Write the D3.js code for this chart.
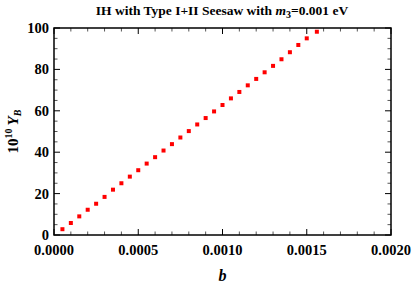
<!DOCTYPE html>
<html>
<head>
<meta charset="utf-8">
<script src="https://cdn.jsdelivr.net/npm/d3@7"></script>
<style>
  body { margin: 0; background: #fff; }
  text { font-family: "Liberation Serif", "Times New Roman", serif; font-weight: bold; }
</style>
</head>
<body>
<div id="chart"></div>
<script>
// data
const bValues = [0.00005, 0.0001, 0.00015, 0.0002, 0.00025, 0.0003, 0.00035, 0.0004,
  0.00045, 0.0005, 0.00055, 0.0006, 0.00065, 0.0007, 0.00075, 0.0008, 0.00085, 0.0009,
  0.00095, 0.001, 0.00105, 0.0011, 0.00115, 0.0012, 0.00125, 0.0013, 0.00135, 0.0014,
  0.00145, 0.0015, 0.00156];
const ybValues = [2.8, 5.8, 9.0, 12.2, 15.1, 18.4, 21.9, 25.0, 28.2, 31.3, 34.5, 37.6,
  40.8, 43.9, 47.1, 50.2, 53.4, 56.5, 59.7, 62.8, 66.0, 69.1, 72.3, 75.4, 78.6, 81.7,
  84.9, 88.3, 91.8, 95.0, 98.2];
const xTicks = [0, 0.0005, 0.001, 0.0015, 0.002];
const yTicks = [0, 20, 40, 60, 80, 100];

const width = 415, height = 289;
const margin = { top: 28, right: 24, bottom: 54, left: 54 };
const w = width - margin.left - margin.right;
const h = height - margin.top - margin.bottom;

const svgRoot = d3.select("#chart").append("svg")
  .attr("width", width)
  .attr("height", height);

const svg = svgRoot.append("g")
  .attr("transform", `translate(${margin.left},${margin.top})`);

const x = d3.scaleLinear().domain([0, 0.002]).range([0, w]);
const y = d3.scaleLinear().domain([0, 100]).range([h, 0]);

// minor + major ticks, drawn inward on all four sides
const xMinor = d3.range(0, 0.00201, 0.0001);
const yMinor = d3.range(0, 100.1, 5);

function isMajor(v, step) {
  return Math.abs(v / step - Math.round(v / step)) < 1e-6;
}

const tickG = svg.append("g");
xMinor.forEach(v => {
  const len = isMajor(v, 0.0005) ? 6 : 3.5;
  const col = isMajor(v, 0.0005) ? "#000" : "#555";
  tickG.append("line").attr("x1", x(v)).attr("x2", x(v)).attr("y1", h).attr("y2", h - len)
    .attr("stroke", col).attr("stroke-width", 1);
  tickG.append("line").attr("x1", x(v)).attr("x2", x(v)).attr("y1", 0).attr("y2", len)
    .attr("stroke", col).attr("stroke-width", 1);
});
yMinor.forEach(v => {
  const len = isMajor(v, 20) ? 6 : 3.5;
  const col = isMajor(v, 20) ? "#000" : "#555";
  tickG.append("line").attr("y1", y(v)).attr("y2", y(v)).attr("x1", 0).attr("x2", len)
    .attr("stroke", col).attr("stroke-width", 1);
  tickG.append("line").attr("y1", y(v)).attr("y2", y(v)).attr("x1", w).attr("x2", w - len)
    .attr("stroke", col).attr("stroke-width", 1);
});

// frame
svg.append("rect")
  .attr("x", 0).attr("y", 0).attr("width", w).attr("height", h)
  .attr("fill", "none").attr("stroke", "#000").attr("stroke-width", 1.5);

// tick labels
svg.selectAll(".xlab").data(xTicks).join("text")
  .attr("class", "xlab")
  .attr("x", d => x(d))
  .attr("y", h + 20)
  .attr("text-anchor", "middle")
  .attr("font-size", 14.5)
  .text(d => d3.format(".4f")(d));

svg.selectAll(".ylab").data(yTicks).join("text")
  .attr("class", "ylab")
  .attr("x", -5)
  .attr("y", d => y(d) + 5)
  .attr("text-anchor", "end")
  .attr("font-size", 14.5)
  .text(d => d);

// points
svg.selectAll(".pt").data(bValues).join("rect")
  .attr("class", "pt")
  .attr("x", (d, i) => x(d) - 2)
  .attr("y", (d, i) => y(ybValues[i]) - 2)
  .attr("width", 4)
  .attr("height", 4)
  .attr("fill", "#ff0000");

// title
const title = svgRoot.append("text")
  .attr("x", 222)
  .attr("y", 15)
  .attr("text-anchor", "middle")
  .attr("font-size", 13.5);
title.append("tspan").text("IH with Type I+II Seesaw with ");
title.append("tspan").attr("font-style", "italic").text("m");
title.append("tspan").attr("font-size", 10).attr("dy", 3).text("3");
title.append("tspan").attr("dy", -3).text("=0.001 eV");

// axis labels
svgRoot.append("text")
  .attr("x", margin.left + w / 2)
  .attr("y", 281)
  .attr("text-anchor", "middle")
  .attr("font-size", 16)
  .attr("font-style", "italic")
  .text("b");

const ylab = svgRoot.append("text")
  .attr("transform", `translate(18,${margin.top + h / 2}) rotate(-90)`)
  .attr("text-anchor", "middle")
  .attr("font-size", 15);
ylab.append("tspan").text("10");
ylab.append("tspan").attr("font-size", 10).attr("dy", -6).text("10");
ylab.append("tspan").attr("dy", 6).attr("font-style", "italic").attr("dx", 3).text("Y");
ylab.append("tspan").attr("font-size", 10).attr("dy", 3).attr("font-style", "italic").text("B");
</script>
</body>
</html>
